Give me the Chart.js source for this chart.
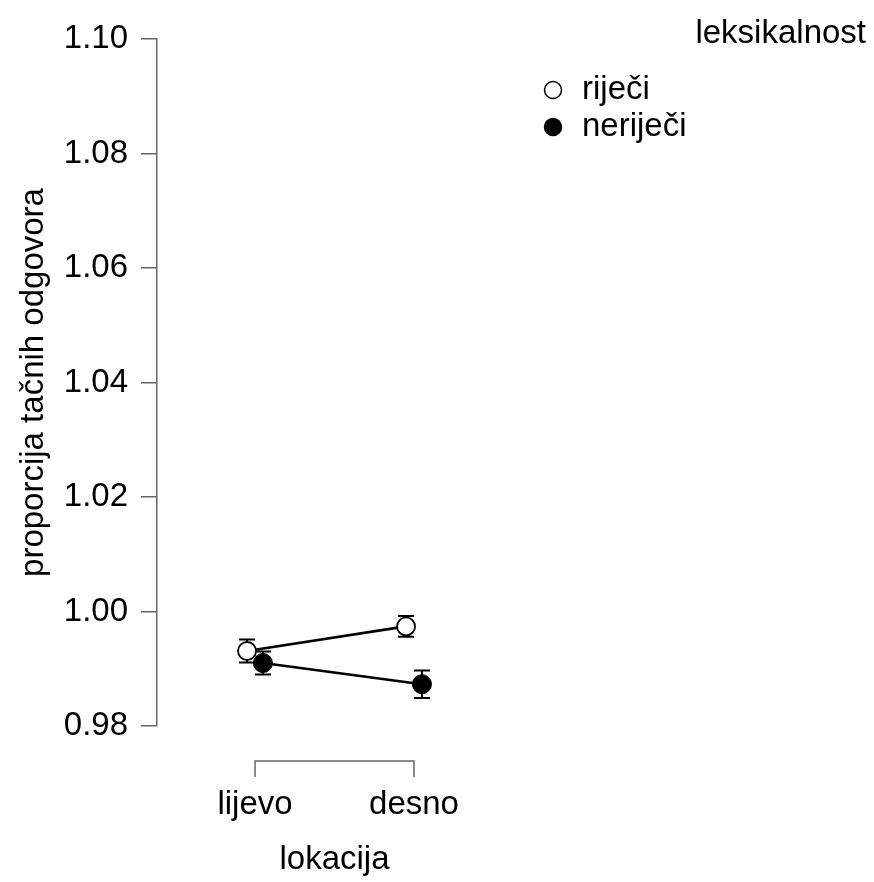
<!DOCTYPE html>
<html>
<head>
<meta charset="utf-8">
<script src="https://cdn.jsdelivr.net/npm/chart.js@4"></script>
<style>
  html, body { margin: 0; padding: 0; background: #ffffff; }
  #wrap { width: 874px; height: 882px; }
</style>
</head>
<body>
<div id="wrap"><canvas id="c" width="874" height="882"></canvas></div>
<script>
// ---- data ----
const categories = ['lijevo', 'desno'];
const seriesNames = ['riječi', 'neriječi'];
const rijeciMean = [0.9931, 0.9974];
const rijeciErr = [0.0020, 0.0018];
const nerijeciMean = [0.9910, 0.9873];
const nerijeciErr = [0.0020, 0.0024];
const yTickValues = [0.98, 1.00, 1.02, 1.04, 1.06, 1.08, 1.10];
const legendTitle = 'leksikalnost';
const xTitle = 'lokacija';
const yTitle = 'proporcija tačnih odgovora';

const dodge = 0.05;
const FONT = '"Liberation Sans", Arial, Helvetica, sans-serif';
const FS = 33;

function toPoints(means, errs, shift) {
  return means.map((m, i) => ({ x: i + 1 + shift, y: m, err: errs[i] }));
}

const errorBarPlugin = {
  id: 'errorBars',
  beforeDatasetsDraw(chart) {
    const ctx = chart.ctx;
    const xs = chart.scales.x, ys = chart.scales.y;
    ctx.save();
    ctx.strokeStyle = '#000';
    ctx.lineWidth = 2;
    chart.data.datasets.forEach(ds => {
      ds.data.forEach(p => {
        const px = xs.getPixelForValue(p.x);
        const top = ys.getPixelForValue(p.y + p.err);
        const bot = ys.getPixelForValue(p.y - p.err);
        ctx.beginPath();
        ctx.moveTo(px, top); ctx.lineTo(px, bot);
        ctx.moveTo(px - 8, top); ctx.lineTo(px + 8, top);
        ctx.moveTo(px - 8, bot); ctx.lineTo(px + 8, bot);
        ctx.stroke();
      });
    });
    ctx.restore();
  }
};

const bracketPlugin = {
  id: 'xBracket',
  afterDraw(chart) {
    const ctx = chart.ctx;
    const xs = chart.scales.x;
    const x1 = xs.getPixelForValue(1), x2 = xs.getPixelForValue(categories.length);
    const y = chart.chartArea.bottom + 35;
    ctx.save();
    ctx.strokeStyle = '#666';
    ctx.lineWidth = 1.5;
    ctx.beginPath();
    ctx.moveTo(x1, y + 16); ctx.lineTo(x1, y); ctx.lineTo(x2, y); ctx.lineTo(x2, y + 16);
    ctx.stroke();
    ctx.restore();
  }
};

const legendPlugin = {
  id: 'rLegend',
  afterDraw(chart) {
    const ctx = chart.ctx;
    ctx.save();
    ctx.font = FS + 'px ' + FONT;
    ctx.fillStyle = '#000';
    ctx.textAlign = 'right';
    ctx.textBaseline = 'alphabetic';
    ctx.fillText(legendTitle, 866, 43);
    const rows = [90, 127];
    chart.data.datasets.forEach((ds, i) => {
      const cy = rows[i];
      ctx.beginPath();
      ctx.arc(553, cy, 8.5, 0, Math.PI * 2);
      ctx.fillStyle = ds.pointBackgroundColor;
      ctx.fill();
      ctx.lineWidth = 1.5;
      ctx.strokeStyle = '#000';
      ctx.stroke();
      ctx.fillStyle = '#000';
      ctx.textAlign = 'left';
      ctx.fillText(ds.label, 582, cy + 9);
    });
    ctx.restore();
  }
};

new Chart(document.getElementById('c'), {
  type: 'line',
  data: {
    datasets: [
      {
        label: seriesNames[0],
        data: toPoints(rijeciMean, rijeciErr, -dodge),
        borderColor: '#000', borderWidth: 2.6,
        pointRadius: 9, pointBorderWidth: 1.8,
        pointBackgroundColor: '#ffffff', pointBorderColor: '#000',
        order: 1
      },
      {
        label: seriesNames[1],
        data: toPoints(nerijeciMean, nerijeciErr, dodge),
        borderColor: '#000', borderWidth: 2.6,
        pointRadius: 9.5, pointBorderWidth: 1,
        pointBackgroundColor: '#000000', pointBorderColor: '#000',
        order: 0
      }
    ]
  },
  options: {
    responsive: false,
    animation: false,
    devicePixelRatio: 1,
    layout: { padding: { top: 39, right: 362, bottom: 0, left: 0 } },
    plugins: { legend: { display: false }, tooltip: { enabled: false } },
    scales: {
      x: {
        type: 'linear',
        min: 0.3836, max: 2.6164,
        grid: { display: false, drawTicks: false },
        border: { display: false },
        afterBuildTicks(s) { s.ticks = categories.map((c, i) => ({ value: i + 1 })); },
        afterFit(s) { s.height = 156; },
        ticks: {
          autoSkip: false, maxRotation: 0, padding: 59,
          color: '#000', font: { family: FONT, size: FS },
          callback: (v) => categories[Math.round(v) - 1]
        },
        title: {
          display: true, text: xTitle, color: '#000',
          font: { family: FONT, size: FS },
          padding: { top: 0, bottom: 2 }
        }
      },
      y: {
        min: 0.98, max: 1.10,
        afterBuildTicks(s) { s.ticks = yTickValues.map(v => ({ value: v })); },
        afterFit(s) { s.width = 157; },
        grid: { drawOnChartArea: false, drawTicks: true, tickLength: 16, color: '#666', lineWidth: 1.5 },
        border: { display: true, color: '#666', width: 1.5 },
        ticks: {
          padding: 13, color: '#000', font: { family: FONT, size: FS },
          callback: (v) => Number(v).toFixed(2)
        },
        title: {
          display: true, text: yTitle, color: '#000',
          font: { family: FONT, size: FS },
          padding: { top: 14, bottom: 0 }
        }
      }
    }
  },
  plugins: [errorBarPlugin, bracketPlugin, legendPlugin]
});
</script>
</body>
</html>
